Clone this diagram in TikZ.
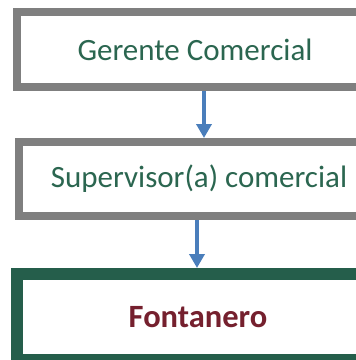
\documentclass[tikz,border=0pt]{standalone}
\usepackage{fontspec}
\setmainfont{Carlito}
\usetikzlibrary{arrows.meta}
\definecolor{boxgray}{HTML}{7F7F7F}
\definecolor{boxgreen}{HTML}{255E4B}
\definecolor{txtgreen}{HTML}{2B6650}
\definecolor{txtred}{HTML}{75202E}
\definecolor{arrowblue}{HTML}{4A7EBB}
\tikzset{
  graybox/.style={draw=boxgray, line width=8pt, fill=white, text=txtgreen,
    font=\fontsize{31}{36}\selectfont, inner sep=0pt},
  greenbox/.style={draw=boxgreen, line width=12pt, fill=white, text=txtred,
    font=\fontsize{32.5}{38}\selectfont\bfseries, inner sep=0pt},
  flow/.style={draw=arrowblue, line width=4.5pt,
    -{Triangle[width=15pt,length=14pt]}}
}
\begin{document}
\begin{tikzpicture}[x=1pt,y=-1pt]
\useasboundingbox (0,0) rectangle (356,360);
\clip (0,0) rectangle (356,360);
\node[graybox, minimum width=356pt, minimum height=75pt] (b1) at (195,49.5) {Gerente Comercial};
\node[graybox, minimum width=360pt, minimum height=74pt] (b2) at (199,179) {Supervisor(a) comercial};
\node[greenbox, minimum width=362pt, minimum height=86pt] (b3) at (198,317) {Fontanero};
\draw[flow] ([xshift=9pt]b1.south) -- ([xshift=5pt]b2.north);
\draw[flow] ([xshift=-2pt]b2.south) -- ([xshift=-1pt]b3.north);
\end{tikzpicture}
\end{document}
